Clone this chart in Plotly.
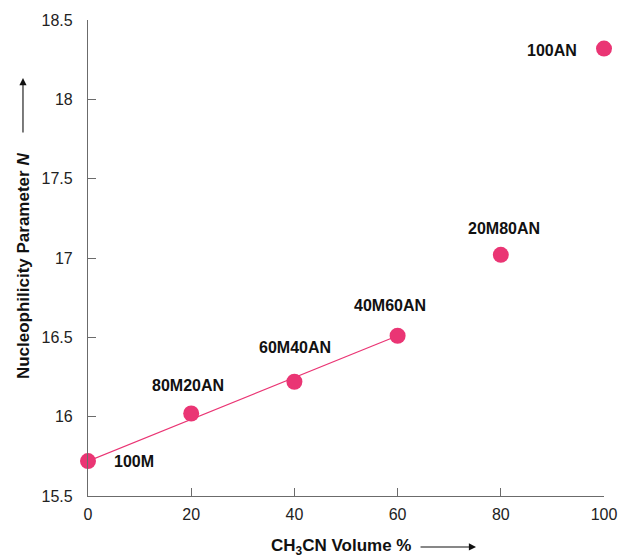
import plotly.graph_objects as go

# Data
ch3cn_volume = [0, 20, 40, 60, 80, 100]
nucleophilicity = [15.72, 16.02, 16.22, 16.51, 17.02, 18.32]
sample_labels = ["100M", "80M20AN", "60M40AN", "40M60AN", "20M80AN", "100AN"]
fit_x = [0, 60]
fit_y = [15.72, 16.51]
x_ticks = [0, 20, 40, 60, 80, 100]
y_ticks = [15.5, 16, 16.5, 17, 17.5, 18, 18.5]
y_tick_text = ["15.5", "16", "16.5", "17", "17.5", "18", "18.5"]

# label pixel offsets (style)
label_offsets = [(46, 0), (-3, 28), (1, 34), (-8, 30), (3, 26), (-52, -2)]

PINK = "#EA3574"
AX = "#6b6b6b"
FONT = "Liberation Sans, Arial, sans-serif"

fig = go.Figure()
fig.add_trace(go.Scatter(x=fit_x, y=fit_y, mode="lines",
                         line=dict(color=PINK, width=1.2), hoverinfo="skip",
                         cliponaxis=False, showlegend=False))
fig.add_trace(go.Scatter(x=ch3cn_volume, y=nucleophilicity, mode="markers",
                         marker=dict(color=PINK, size=16, line=dict(width=0)),
                         cliponaxis=False, showlegend=False))

for xv, yv, lab, (dx, dy) in zip(ch3cn_volume, nucleophilicity, sample_labels, label_offsets):
    fig.add_annotation(x=xv, y=yv, xref="x", yref="y", text=f"<b>{lab}</b>",
                       showarrow=False, xshift=dx, yshift=dy,
                       xanchor="center", yanchor="middle",
                       font=dict(family=FONT, size=16, color="#111"))

# Axis titles with arrows
fig.add_annotation(xref="paper", yref="paper", x=0.49, y=-0.107,
                   xanchor="center", yanchor="middle",
                   text="<b>CH<sub>3</sub>CN Volume %</b>", showarrow=False,
                   font=dict(family=FONT, size=17, color="#111"))
fig.add_annotation(xref="paper", yref="paper", x=0.752, y=-0.107, text="",
                   showarrow=True, ax=-57, ay=0, arrowhead=2, arrowsize=1.3,
                   arrowwidth=1.1, arrowcolor="#111")
fig.add_annotation(xref="paper", yref="paper", x=-0.126, y=0.485,
                   xanchor="center", yanchor="middle",
                   text="<b>Nucleophilicity Parameter <i>N</i></b>", showarrow=False,
                   textangle=-90, font=dict(family=FONT, size=17, color="#111"))
fig.add_annotation(xref="paper", yref="paper", x=-0.126, y=0.878, text="",
                   showarrow=True, ax=0, ay=56, arrowhead=2, arrowsize=1.3,
                   arrowwidth=1.1, arrowcolor="#111")

fig.update_xaxes(range=[0, 100], tickvals=x_ticks, ticks="inside", ticklen=8,
                 tickcolor=AX, tickwidth=1.2, showline=True, linecolor=AX, linewidth=1.2,
                 showgrid=False, zeroline=False, ticklabelstandoff=4, automargin=False,
                 tickfont=dict(family=FONT, size=16, color="#222"))
fig.update_yaxes(range=[15.5, 18.5], tickvals=y_ticks, ticktext=y_tick_text,
                 ticks="inside", ticklen=8, tickcolor=AX, tickwidth=1.2,
                 showline=True, linecolor=AX, linewidth=1.2, automargin=False,
                 showgrid=False, zeroline=False, ticklabelstandoff=11,
                 tickfont=dict(family=FONT, size=16, color="#222"))

fig.update_layout(width=620, height=558, plot_bgcolor="white", paper_bgcolor="white",
                  margin=dict(l=88, r=16, t=20, b=62), showlegend=False)

# remove the page's default body margin so the 620x558 figure fills the window
fig.write_html("out.html", config={"displayModeBar": False},
               post_script="document.body.style.margin='0';document.body.style.overflow='hidden';")
